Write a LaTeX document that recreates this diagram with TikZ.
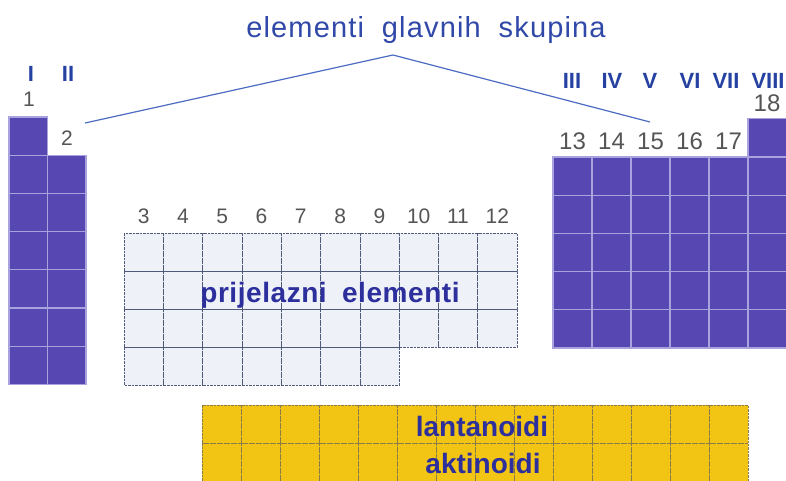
\documentclass[tikz,border=0pt]{standalone}
\usepackage{fontspec}
\usepackage{graphicx}
\setmainfont{Liberation Sans}
\definecolor{mainpurple}{HTML}{5747B2}
\definecolor{gridlight}{HTML}{A9A3DD}
\definecolor{transfill}{HTML}{EEF1F7}
\definecolor{transline}{HTML}{4F5A78}
\definecolor{lanfill}{HTML}{F2C515}
\definecolor{lanline}{HTML}{8C7B4A}
\definecolor{labelblue}{HTML}{2C2F9C}
\definecolor{romanblue}{HTML}{2542A2}
\definecolor{titleblue}{HTML}{3048A8}
\definecolor{numgrey}{HTML}{555555}
\definecolor{linkblue}{HTML}{4C6CC4}
\tikzset{
  maincell/.style={fill=mainpurple, draw=gridlight, line width=1.1pt},
  transcell/.style={draw=transline, dash pattern=on 2.5pt off 1pt, line width=0.6pt},
  lancell/.style={draw=lanline, dash pattern=on 2.5pt off 1pt, line width=0.6pt},
  grpnum/.style={text=numgrey, inner sep=0pt, font=\fontsize{21}{21}\selectfont},
  bignum/.style={text=numgrey, inner sep=0pt, font=\fontsize{24}{24}\selectfont},
  roman/.style={text=romanblue, inner sep=0pt, font=\bfseries\fontsize{22}{22}\selectfont},
  blocklabel/.style={text=labelblue, inner sep=0pt, anchor=base, font=\bfseries\fontsize{28}{28}\selectfont},
  titlelabel/.style={text=titleblue, inner sep=0pt, anchor=base, font=\fontsize{29}{29}\selectfont},
  link/.style={draw=linkblue, line width=1.2pt}
}
\begin{document}
\begin{tikzpicture}[x=1pt,y=-1pt]
\clip (0,0) rectangle (786,480);
\fill[white] (0,0) rectangle (786,480);
% left block (groups 1 and 2)
\foreach \r in {0,...,6} \path[maincell] (9,{117+38.2*\r}) rectangle ++(38.5,38.2);
\foreach \r in {1,...,6} \path[maincell] (47.5,{117+38.2*\r}) rectangle ++(38.5,38.2);
% right block (groups 13-18)
\foreach \c in {0,...,4} \foreach \r in {0,...,4} \path[maincell] ({553+39*\c},{157+38.2*\r}) rectangle ++(39,38.2);
\foreach \r in {0,...,5} \path[maincell] (748,{118.8+38.2*\r}) rectangle ++(39,38.2);
% transition block
\fill[transfill] (124,233) rectangle (517,347);
\fill[transfill] (124,347) rectangle (399.1,385);
\foreach \c in {0,...,9} \foreach \r in {0,...,2} \path[transcell] ({124+39.3*\c},{233+38*\r}) rectangle ++(39.3,38);
\foreach \c in {0,...,6} \path[transcell] ({124+39.3*\c},347) rectangle ++(39.3,38);
% lanthanoids / actinoids
\fill[lanfill] (202,405) rectangle (748,481);
\foreach \c in {0,...,13} \foreach \r in {0,1} \path[lancell] ({202+39*\c},{405+38*\r}) rectangle ++(39,38);
% group numbers
\node[grpnum] (n1) at (29,99) {1};
\node[grpnum] (n2) at (67,138) {2};
\foreach \n [count=\i from 0] in {3,...,12}
  \node[grpnum] (n\n) at ({143.6+39.3*\i},216) {\n};
\foreach \n [count=\i from 0] in {13,...,17}
  \node[bignum] (n\n) at ({572.5+39*\i},141) {\n};
\node[bignum] (n18) at (767,103) {18};
% roman numerals
\node[roman] (rI) at (31,74) {I};
\node[roman] (rII) at (68,74) {II};
\node[roman] (rIII) at (572,81) {III};
\node[roman] (rIV) at (612,81) {IV};
\node[roman] (rV) at (650,81) {V};
\node[roman] (rVI) at (690,81) {VI};
\node[roman] (rVII) at (726,81) {VII};
\node[roman] (rVIII) at (768,81) {VIII};
% labels
\node[titlelabel] (title) at (426,37) {\addfontfeature{LetterSpace=4}elementi\hspace{0.3em} glavnih\hspace{0.3em} skupina};
\node[blocklabel] (trans) at (330,302) {\addfontfeature{LetterSpace=2}prijelazni\hspace{0.25em} elementi};
\node[blocklabel] (lan) at (482,436) {lantanoidi};
\node[blocklabel] (akt) at (483,473) {aktinoidi};
% connector
\coordinate (lstart) at (85,123);
\coordinate (apex) at (393,55);
\coordinate (rend) at (650,122);
\draw[link] (lstart) -- (apex) -- (rend);
\end{tikzpicture}
\end{document}
